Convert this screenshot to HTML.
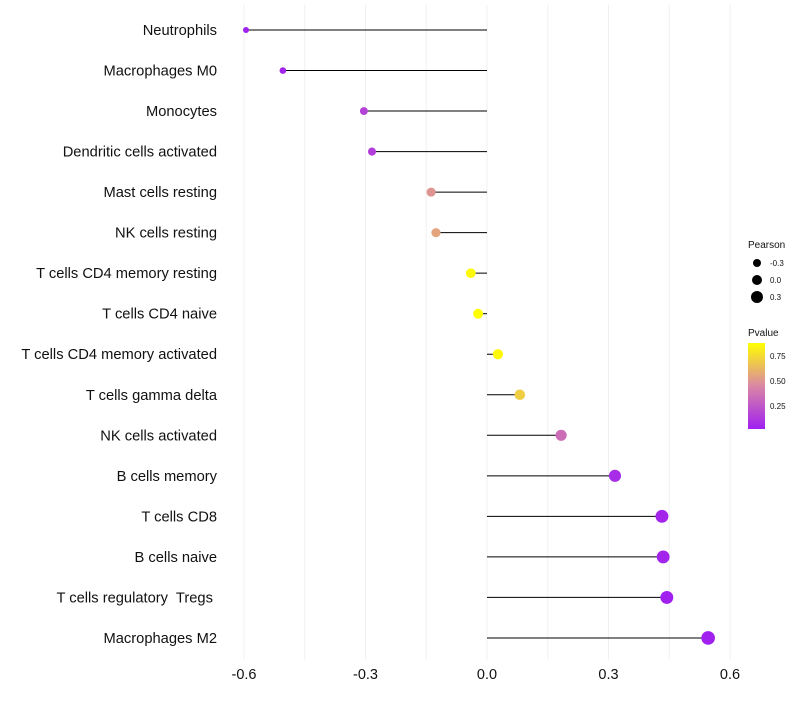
<!DOCTYPE html>
<html><head><meta charset="utf-8"><style>
body{margin:0;background:#fff}
svg text{font-family:"Liberation Sans",sans-serif;white-space:pre}
</style></head><body>
<svg id="c" width="800" height="700"></svg>
<script>
const categories=["Neutrophils","Macrophages M0","Monocytes","Dendritic cells activated","Mast cells resting","NK cells resting","T cells CD4 memory resting","T cells CD4 naive","T cells CD4 memory activated","T cells gamma delta","NK cells activated","B cells memory","T cells CD8","B cells naive","T cells regulatory  Tregs ","Macrophages M2"];
const pearson=[-0.595,-0.504,-0.304,-0.284,-0.138,-0.126,-0.04,-0.022,0.027,0.081,0.183,0.316,0.432,0.435,0.444,0.546];
const pvalue=[0.04,0.05,0.17,0.15,0.5,0.55,0.85,0.9,0.85,0.7,0.35,0.08,0.05,0.05,0.03,0.03];
const xTicks=[-0.6,-0.3,0.0,0.3,0.6];
const xTickLabels=["-0.6","-0.3","0.0","0.3","0.6"];
const sizeLegend=[-0.3,0.0,0.3];
const colorLegend=[0.75,0.5,0.25];

const NS="http://www.w3.org/2000/svg";
const svg=document.getElementById('c');
const x=v=>487+v*405;
const y=i=>30+i*40.53;
const r=v=>Math.max(2,5+v*3.33);
function lerp(a,b,t){return a.map((c,i)=>Math.round(c+(b[i]-c)*t));}
function col(p){const t=Math.min(1,Math.max(0,(p-0.03)/0.84));
 const A=[160,32,240],M=[218,135,165],B=[255,255,0];
 const c=t<0.5?lerp(A,M,t*2):lerp(M,B,(t-0.5)*2);return `rgb(${c})`;}
function el(t,a,txt){const e=document.createElementNS(NS,t);for(const k in a)e.setAttribute(k,a[k]);if(txt!==undefined)e.textContent=txt;svg.appendChild(e);return e;}
for(let v=-0.6;v<=0.601;v+=0.15){const g=el('line',{x1:x(v),x2:x(v),y1:5,y2:660,stroke:'#f0f0f0','stroke-width':1});

}
xTicks.forEach((v,i)=>{const t=el('text',{x:x(v),y:679,'text-anchor':'middle','font-size':14.5,fill:'#111'},xTickLabels[i]);

});
categories.forEach((c,i)=>{
 const t=el('text',{x:217,y:y(i)+5,'text-anchor':'end','font-size':14.7,fill:'#111'},c);
 
 
 const l=el('line',{x1:x(0),x2:x(pearson[i]),y1:y(i),y2:y(i),stroke:'#000','stroke-width':1});
 
 
 const p=el('circle',{cx:x(pearson[i]),cy:y(i),r:r(pearson[i]),fill:col(pvalue[i])});
 
 
});
const lt=el('text',{x:748,y:248,'font-size':10,fill:'#111'},'Pearson');


sizeLegend.forEach((v,i)=>{const cy=263+i*17;
 const c=el('circle',{cx:757,cy:cy,r:r(v),fill:'#000'});
 
 
 const t=el('text',{x:770,y:cy+3,'font-size':8,fill:'#111'},v.toFixed(1));
 
 });
const defs=el('defs',{});
const gr=document.createElementNS(NS,'linearGradient');gr.setAttribute('id','g');gr.setAttribute('x1','0');gr.setAttribute('y1','1');gr.setAttribute('x2','0');gr.setAttribute('y2','0');
[[0,'#A020F0'],[0.5,'#DA87A5'],[1,'#FFFF00']].forEach(s=>{const st=document.createElementNS(NS,'stop');st.setAttribute('offset',s[0]);st.setAttribute('stop-color',s[1]);gr.appendChild(st);});
defs.appendChild(gr);
const ct=el('text',{x:748,y:336,'font-size':10,fill:'#111'},'Pvalue');


const bar=el('rect',{x:748,y:343,width:17,height:86,fill:'url(#g)'});


const cy=v=>428-(v-0.03)*100;
colorLegend.forEach(v=>{
 const t=el('text',{x:770,y:cy(v)+3,'font-size':8,fill:'#111'},v.toFixed(2));
 
 });
</script>
</body></html>
